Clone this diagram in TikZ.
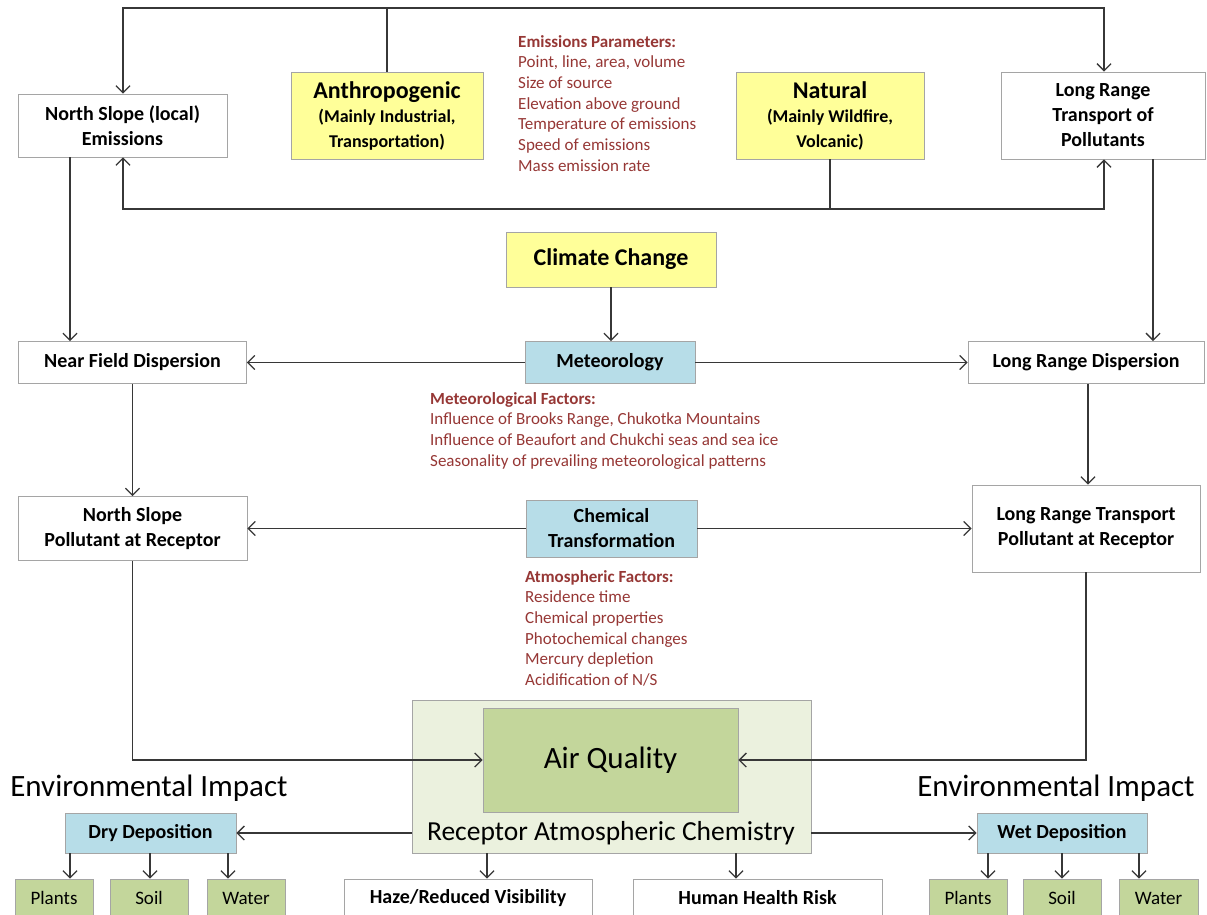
\documentclass[tikz,border=0pt]{standalone}
\usepackage{fontspec}
\setmainfont{Carlito}
\usetikzlibrary{arrows.meta}
\definecolor{ylw}{RGB}{255,255,153}
\definecolor{blu}{RGB}{183,221,232}
\definecolor{lgrn}{RGB}{235,241,222}
\definecolor{grn}{RGB}{195,214,155}
\definecolor{dred}{RGB}{150,55,53}
\definecolor{edge}{RGB}{165,165,165}
\definecolor{ln}{RGB}{55,55,55}
\begin{document}
\begin{tikzpicture}[x=1pt,y=-1pt,
  box/.style={draw=edge, line width=0.8pt, fill=white, inner sep=0pt, align=center,
    font=\fontsize{20}{25}\selectfont\bfseries},
  ybox/.style={box, fill=ylw},
  bbox/.style={box, fill=blu},
  gbox/.style={box, fill=grn, font=\fontsize{19}{23}\selectfont},
  redtxt/.style={text=dred, align=left, inner sep=0pt, anchor=north west,
    font=\fontsize{17}{20.7}\selectfont},
  conn/.style={draw=ln, line width=1.3pt},
  arr/.style={conn, -{Straight Barb[length=7pt,width=14pt,line width=1.3pt]}},
  big/.style={inner sep=0pt, font=\fontsize{31}{36}\selectfont}
]
\path[use as bounding box] (0,0) rectangle (1207,915);
\clip (0,0) rectangle (1207,915);

% top row
\node[box, minimum width=209, minimum height=63] (nse) at (122.5,125.5)
  {North Slope (local)\\Emissions};
\node[ybox, minimum width=192, minimum height=87] (anth) at (387,115.5)
  {{\fontsize{24}{26}\selectfont Anthropogenic}\\[-1pt]{\fontsize{18}{22}\selectfont (Mainly Industrial,}\\{\fontsize{18}{22}\selectfont Transportation)}};
\node[ybox, minimum width=188, minimum height=87] (nat) at (830,115.5)
  {{\fontsize{24}{26}\selectfont Natural}\\[-1pt]{\fontsize{18}{22}\selectfont (Mainly Wildfire,}\\{\fontsize{18}{22}\selectfont Volcanic)}};
\node[box, minimum width=204, minimum height=87] (lrt) at (1103,115.5)
  {Long Range\\Transport of\\Pollutants};
\node[redtxt] (emp) at (518,35)
  {\textbf{Emissions Parameters:}\\Point, line, area, volume\\Size of source\\Elevation above ground\\Temperature of emissions\\Speed of emissions\\Mass emission rate};

% climate / meteorology
\node[ybox, minimum width=210, minimum height=55, font=\fontsize{24}{28}\selectfont\bfseries] (clim) at (611,259.5) {Climate Change};
\node[bbox, minimum width=170, minimum height=42] (met) at (610,362.5) {Meteorology};
\node[box, minimum width=228, minimum height=42] (nfd) at (132.5,362.5) {Near Field Dispersion};
\node[box, minimum width=236, minimum height=42] (lrd) at (1086,362.5) {Long Range Dispersion};
\node[redtxt] (metf) at (430,392)
  {\textbf{Meteorological Factors:}\\Influence of Brooks Range, Chukotka Mountains\\Influence of Beaufort and Chukchi seas and sea ice\\Seasonality of prevailing meteorological patterns};

% receptor row
\node[box, minimum width=229, minimum height=64] (nspr) at (132.5,528.5) {North Slope\\Pollutant at Receptor};
\node[box, minimum width=228, minimum height=87] (lrtpr) at (1086,528.5) {Long Range Transport\\Pollutant at Receptor};
\node[bbox, minimum width=171, minimum height=57] (chem) at (611.5,528.5) {Chemical\\Transformation};
\node[redtxt] (atmf) at (525,570)
  {\textbf{Atmospheric Factors:}\\Residence time\\Chemical properties\\Photochemical changes\\Mercury depletion\\Acidification of N/S};

% air quality
\node[draw=edge, line width=0.8pt, fill=lgrn, inner sep=0pt, minimum width=399, minimum height=153] (rec) at (611.5,776.5) {};
\node[draw=edge, line width=0.8pt, fill=grn, inner sep=0pt, minimum width=255, minimum height=104, font=\fontsize{31}{36}\selectfont] (airq) at (610.5,760) {Air Quality};
\node[inner sep=0pt, font=\fontsize{27.5}{32}\selectfont] (rac) at (611,833) {Receptor Atmospheric Chemistry};

% environmental impact
\node[big] (eil) at (149,788) {Environmental Impact};
\node[big] (eir) at (1056,788) {Environmental Impact};
\node[bbox, minimum width=171, minimum height=40] (dry) at (150.5,833) {Dry Deposition};
\node[bbox, minimum width=170, minimum height=40] (wet) at (1062,833) {Wet Deposition};
\node[gbox, minimum width=78, minimum height=38] (pl) at (54,898) {Plants};
\node[gbox, minimum width=78, minimum height=38] (sl) at (149,898) {Soil};
\node[gbox, minimum width=78, minimum height=38] (wl) at (246,898) {Water};
\node[gbox, minimum width=78, minimum height=38] (pr) at (968,898) {Plants};
\node[gbox, minimum width=78, minimum height=38] (sr) at (1062,898) {Soil};
\node[gbox, minimum width=79, minimum height=38] (wr) at (1158.5,898) {Water};
\node[box, minimum width=248, minimum height=38] (haze) at (468,898) {Haze/Reduced Visibility};
\node[box, minimum width=249, minimum height=38] (hhr) at (757.5,898) {Human Health Risk};

% connectors: top loop
\coordinate (tl) at (123,8);
\coordinate (tr) at (1104,8);
\coordinate (bl) at (123,209);
\coordinate (br) at (1104,209);
\draw[conn] (anth.north) -- (anth.north |- tl);
\draw[arr] (anth.north |- tl) -- (tl) -- (tl |- nse.north);
\draw[arr] (anth.north |- tl) -- (tr) -- (tr |- lrt.north);
\draw[conn] (nat.south) -- (nat.south |- bl);
\draw[arr] (nat.south |- bl) -- (bl) -- (bl |- nse.south);
\draw[arr] (nat.south |- br) -- (br) -- (br |- lrt.south);

% verticals
\coordinate (nsx) at (70,0);
\coordinate (lrx) at (1153,0);
\draw[arr] (nsx |- nse.south) -- (nsx |- nfd.north);
\draw[arr] (lrx |- lrt.south) -- (lrx |- lrd.north);
\draw[arr] (met.north -| clim.south) ++(0,0) (clim.south) -- (clim.south |- met.north);
\draw[arr] (met.west) -- (met.west -| nfd.east);
\draw[arr] (met.east) -- (met.east -| lrd.west);
\coordinate (lx) at (1088,0);
\draw[arr] (lx |- lrd.south) -- (lx |- lrtpr.north);
\draw[arr] (nfd.south) -- (nfd.south |- nspr.north);
\draw[arr] (chem.west) -- (chem.west -| nspr.east);
\draw[arr] (chem.east) -- (chem.east -| lrtpr.west);

% into air quality
\draw[arr] (nspr.south) |- (airq.west);
\draw[arr] (lrtpr.south) |- (airq.east);

% deposition
\draw[arr] (rec.west |- dry.east) -- (dry.east);
\draw[arr] (rec.east |- wet.west) -- (wet.west);
\foreach \x/\t in {70/pl,150/sl,228/wl}{
  \draw[arr] (\x,0 |- dry.south) -- (\x,0 |- \t.north);
}
\foreach \x/\t in {988/pr,1062/sr,1139/wr}{
  \draw[arr] (\x,0 |- wet.south) -- (\x,0 |- \t.north);
}
\coordinate (hx) at (487,0);
\coordinate (mx) at (736,0);
\draw[arr] (hx |- rec.south) -- (hx |- haze.north);
\draw[arr] (mx |- rec.south) -- (mx |- hhr.north);
\end{tikzpicture}
\end{document}
